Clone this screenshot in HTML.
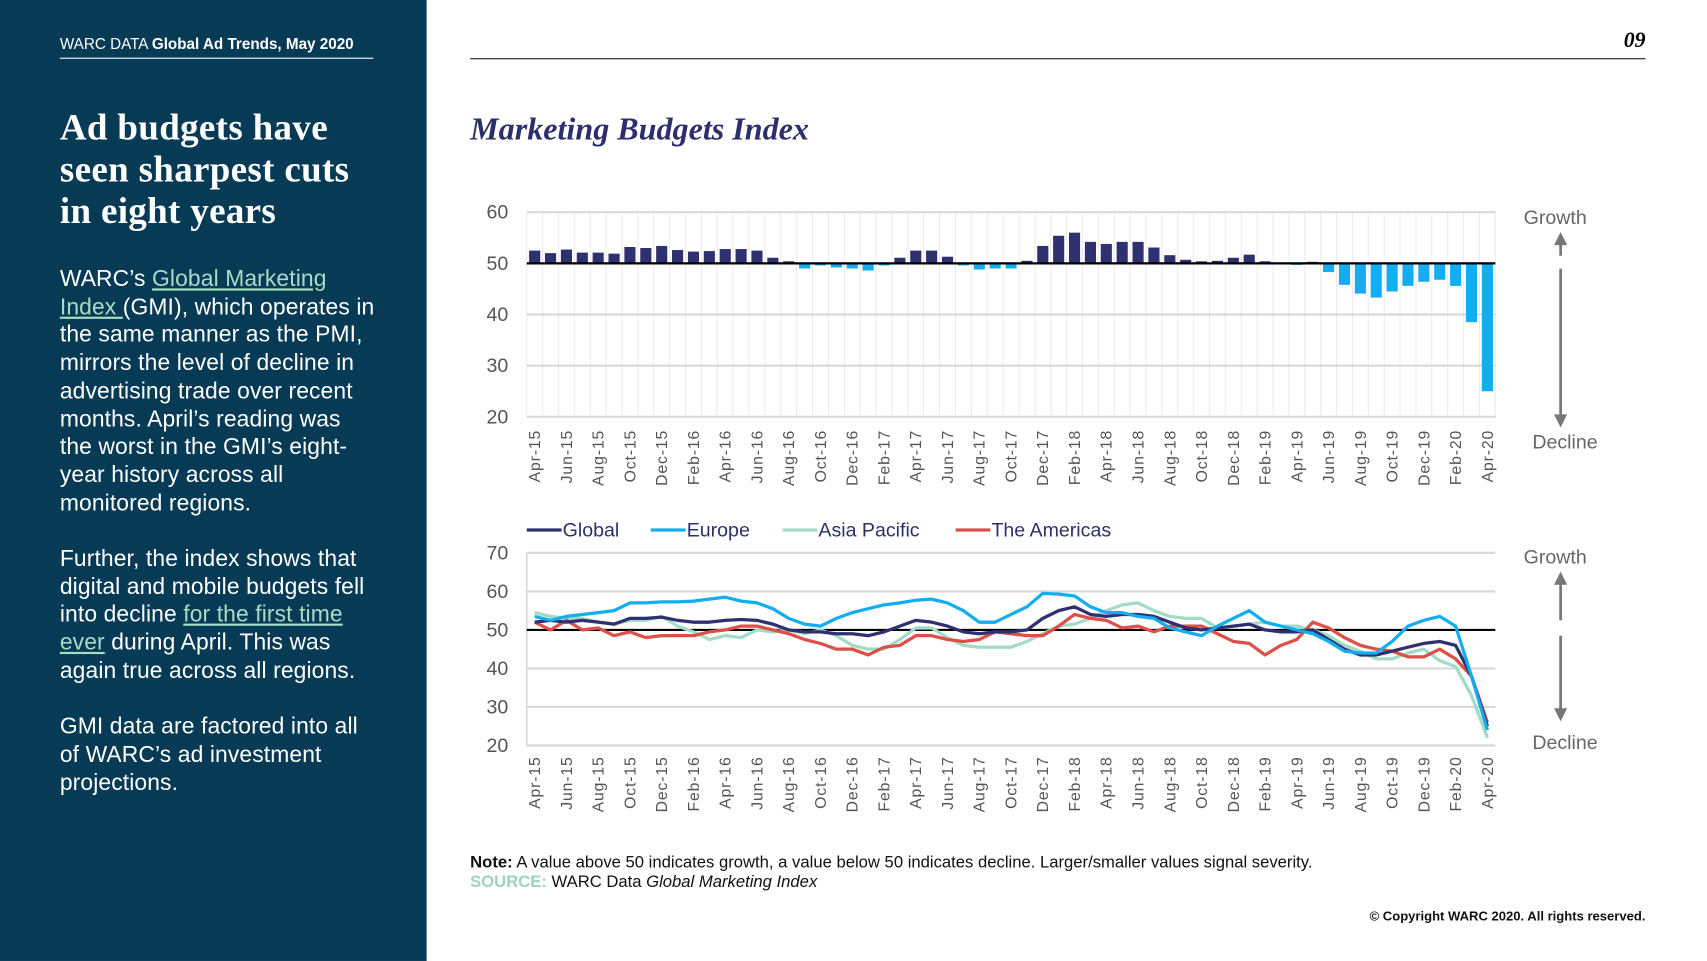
<!DOCTYPE html>
<html><head><meta charset="utf-8">
<style>
html,body{margin:0;padding:0;width:1707px;height:960px;overflow:hidden;background:#fff}
#wrap{position:absolute;left:0;top:0;width:1569px;height:883px;transform:scale(1.0883);transform-origin:0 0;font-family:"Liberation Sans",sans-serif}
#left{position:absolute;left:0;top:0;width:392px;height:883px;background:#073a54;color:#fff}
.hdr{position:absolute;left:55px;top:32px;font-size:14px;white-space:nowrap;border-bottom:1px solid #fff;padding-bottom:5px;width:288px}
.head{position:absolute;left:55px;top:99px;font-family:"Liberation Serif",serif;font-weight:bold;font-size:34px;line-height:38.5px;letter-spacing:0.3px}
.body{position:absolute;left:55px;top:244px;font-size:21px;line-height:25.7px;white-space:nowrap;letter-spacing:0.1px}
.body a{color:#a7dcc5;text-decoration:underline}
.p{margin:0 0 25.7px 0}
</style></head><body>
<div id="wrap">
<div id="left">
 <div class="hdr">WARC DATA <b>Global Ad Trends, May 2020</b></div>
 <div class="head">Ad budgets have<br>seen sharpest cuts<br>in eight years</div>
 <div class="body">
  <div class="p">WARC’s <a>Global Marketing<br>Index </a>(GMI), which operates in<br>the same manner as the PMI,<br>mirrors the level of decline in<br>advertising trade over recent<br>months. April’s reading was<br>the worst in the GMI’s eight-<br>year history across all<br>monitored regions.</div>
  <div class="p">Further, the index shows that<br>digital and mobile budgets fell<br>into decline <a>for the first time<br>ever</a> during April. This was<br>again true across all regions.</div>
  <div class="p">GMI data are factored into all<br>of WARC’s ad investment<br>projections.</div>
 </div>
</div>
<svg id="main" width="1569" height="883" style="position:absolute;left:0;top:0">
 <line x1="432" y1="54" x2="1512" y2="54" stroke="#000" stroke-width="1"/>
 <text x="1512" y="43" text-anchor="end" font-family="Liberation Serif,serif" font-style="italic" font-weight="bold" font-size="20">09</text>
 <text x="432" y="128" font-family="Liberation Serif,serif" font-style="italic" font-weight="bold" font-size="29.5" fill="#2d2f6b">Marketing Budgets Index</text>
 <g id="bars"></g>
 <g id="lines"></g>
 <text x="432" y="797" font-size="15.3" fill="#111"><tspan font-weight="bold">Note:</tspan> A value above 50 indicates growth, a value below 50 indicates decline. Larger/smaller values signal severity.</text>
 <text x="432" y="815" font-size="15.3" fill="#111"><tspan font-weight="bold" fill="#9fd3bd">SOURCE:</tspan> WARC Data <tspan font-style="italic">Global Marketing Index</tspan></text>
 <text x="1512" y="846" text-anchor="end" font-size="12" font-weight="bold" fill="#111">© Copyright WARC 2020. All rights reserved.</text>
</svg>
</div>
<script>
const months=["Jan","Feb","Mar","Apr","May","Jun","Jul","Aug","Sep","Oct","Nov","Dec"];
const categories=[];
for(let i=0;i<61;i++){const m=(3+i)%12,y=15+Math.floor((3+i)/12);categories.push(months[m]+"-"+y);}
const budgetValues=[52.5,52,52.7,52.1,52.1,51.9,53.2,53.0,53.4,
52.6,52.3,52.4,52.8,52.8,52.5,51.1,50.4,49.0,49.6,49.2,49.0,
48.6,49.6,51.1,52.5,52.5,51.3,49.6,48.8,49.0,49.0,50.5,53.4,
55.4,56.0,54.2,53.8,54.2,54.2,53.1,51.6,50.7,50.4,50.5,51.1,
51.7,50.4,50.0,49.7,50.3,48.3,45.8,44.1,43.3,44.5,45.6,46.4,
46.8,45.6,38.5,25.0];
const globalValues=[52,52.5,52,52.5,52,51.5,53,53,53.3,
52.5,52,52,52.5,52.7,52.5,51.5,50,49.5,49.5,49,49,
48.5,49.5,51,52.5,52,51,49.5,49,49.5,49.5,50,53,
55,56,54,53.5,54,54,53.5,52,50.5,50,50.5,51,
51.5,50,49.5,49.5,50,47.5,45,43.5,43.5,44.5,45.5,46.5,
47,46,38,25];
const europeValues=[53.5,52.5,53.5,54,54.5,55,57,57,57.3,
57.3,57.5,58,58.5,57.5,57,55.5,53,51.5,51,53,54.5,
55.5,56.5,57,57.7,58,57,55,52,52,54,56,59.5,
59.3,58.8,56,54.5,54.5,53.5,53,50.5,49.5,48.5,51,53,
55,52,51,50,49,47,44.5,44,44,47,51,52.5,
53.5,51,38,24];
const asiaValues=[54.5,53.5,53,53,52,51.5,52.5,52.5,53.5,
51,49.5,47.5,48.5,48,50,49.5,50,49,50,48.5,46,
45,45,47.5,50.5,50.5,48,46,45.5,45.5,45.5,47,49,
51,51.5,53,55,56.5,57,55,53.5,53,53,50.5,51,
51.5,52,51,51,50,48.5,46,44.5,42.5,42.5,44,45,
42,40.5,33,22];
const americasValues=[52,50,52.5,50,50.5,48.5,49.5,48,48.5,
48.5,48.5,49.5,50,51,51,50,49,47.5,46.5,45,45,
43.5,45.5,46,48.5,48.5,47.5,47,47.5,49.5,49,48.5,48.5,
51,54,53,52.5,50.5,51,49.5,51,51,51,49,47,
46.5,43.5,46,47.5,52,50.5,48,46,45,44.5,43,43,
45,42.5,38,26];
const barTicks=[20,30,40,50,60];
const lineTicks=[20,30,40,50,60,70];
const seriesNames=["Global","Europe","Asia Pacific","The Americas"];
const seriesColors=["#2e3070","#13adf0","#a3dbc4","#db5048"];
const seriesData=[globalValues,europeValues,asiaValues,americasValues];

const NS="http://www.w3.org/2000/svg";
function mk(p,t,a){const e=document.createElementNS(NS,t);for(const k in a)e.setAttribute(k,a[k]);p.appendChild(e);return e;}
const X0=484,X1=1374,N=categories.length,step=(X1-X0)/N;
const xc=i=>X0+step*(i+0.5);
function yB(v){return 383-(v-20)*(383-195)/40;}
function yL(v){return 685-(v-20)*(685-508)/50;}

function axisLabels(g,top){
 categories.forEach((c,i)=>{if(i%2)return;
  const t=mk(g,"text",{x:0,y:0,transform:`translate(${xc(i)+5},${top}) rotate(-90)`,"text-anchor":"end","font-size":"14.5","fill":"#555","letter-spacing":"0.8"});
  t.textContent=c;
  
  
 });
}
function growthDecline(g,gy,dy,a1,a2,a3,a4){
 const t1=mk(g,"text",{x:1429,y:gy,"text-anchor":"middle","font-size":"18","fill":"#666"});t1.textContent="Growth";
 
 
 const t2=mk(g,"text",{x:1438,y:dy,"text-anchor":"middle","font-size":"18","fill":"#666"});t2.textContent="Decline";
 
 
 const u=mk(g,"path",{d:`M1434 ${a2}V${a1+6} M1430 ${a1+8} L1434 ${a1} L1438 ${a1+8}Z`,stroke:"#777","stroke-width":"2.5",fill:"#777"});
 
 
 const d=mk(g,"path",{d:`M1434 ${a3}V${a4-6} M1430 ${a4-8} L1434 ${a4} L1438 ${a4-8}Z`,stroke:"#777","stroke-width":"2.5",fill:"#777"});
 
 
}

const gb=document.getElementById("bars");


for(let i=0;i<=N;i++){const l=mk(gb,"line",{x1:X0+step*i,x2:X0+step*i,y1:195,y2:383,stroke:"#ececec","stroke-width":"1"});
 
 }
barTicks.forEach(v=>{
 const l=mk(gb,"line",{x1:X0,x2:X1,y1:yB(v),y2:yB(v),stroke:"#d9d9d9","stroke-width":"2"});
 
 
 const t=mk(gb,"text",{x:467,y:yB(v)+6,"text-anchor":"end","font-size":"18","fill":"#555"});t.textContent=v;
 
 
});
budgetValues.forEach((v,i)=>{
 const y1=yB(Math.max(v,50)),y2=yB(Math.min(v,50));
 const r=mk(gb,"rect",{x:xc(i)-step*0.35,y:y1,width:step*0.7,height:Math.max(y2-y1,0.5),fill:v>=50?"#2e3070":"#13adf0"});
 
 
});
const b50=mk(gb,"line",{x1:X0,x2:X1,y1:yB(50),y2:yB(50),stroke:"#000","stroke-width":"2"});


axisLabels(gb,395);
growthDecline(gb,206,412,216,235,247,390);

const gl=document.getElementById("lines");


lineTicks.forEach(v=>{
 const l=mk(gl,"line",{x1:X0,x2:X1,y1:yL(v),y2:yL(v),stroke:"#d9d9d9","stroke-width":"2"});
 
 
 const t=mk(gl,"text",{x:467,y:yL(v)+6,"text-anchor":"end","font-size":"18","fill":"#555"});t.textContent=v;
 
 
});
const ax=mk(gl,"line",{x1:X0,x2:X0,y1:508,y2:685,stroke:"#d9d9d9","stroke-width":"1.5"});


const l50=mk(gl,"line",{x1:X0,x2:X1,y1:yL(50),y2:yL(50),stroke:"#000","stroke-width":"2"});


[2,3,0,1].forEach(s=>{
 const pts=seriesData[s].map((v,i)=>xc(i).toFixed(1)+","+yL(v).toFixed(1)).join(" ");
 const p=mk(gl,"polyline",{points:pts,fill:"none",stroke:seriesColors[s],"stroke-width":"3","stroke-linejoin":"round"});
 
 
});
const legX=[484,598,719,878];
seriesNames.forEach((n,s)=>{
 const g=mk(gl,"g",{});
 
 
 mk(g,"line",{x1:legX[s],x2:legX[s]+32,y1:487,y2:487,stroke:seriesColors[s],"stroke-width":"3"});
 const t=mk(g,"text",{x:legX[s]+33,y:493,"font-size":"18","fill":"#2d2f6b"});t.textContent=n;
});
axisLabels(gl,695);
growthDecline(gl,518,688,528,570,584,660);
</script>
</body></html>
